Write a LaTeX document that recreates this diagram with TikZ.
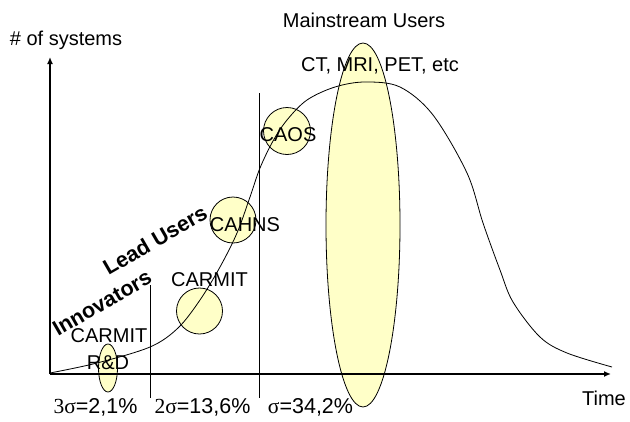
\documentclass[tikz,border=0pt]{standalone}
\usepackage{fontspec}
\setmainfont{Liberation Sans}
\newfontfamily\seriffam{Liberation Serif}
\usetikzlibrary{shapes.geometric,arrows.meta}
\definecolor{paleyellow}{RGB}{255,255,200}
\tikzset{
  lbl/.style={inner sep=0pt,font=\fontsize{20}{23}\selectfont},
  siglbl/.style={inner sep=0pt,font=\fontsize{21.5}{24}\selectfont},
  boldlbl/.style={inner sep=0pt,font=\fontsize{21.5}{24}\selectfont\bfseries,rotate=30},
  bubble/.style={circle,draw=black,fill=paleyellow,line width=0.8pt,inner sep=0pt,minimum size=46pt},
  oval/.style={ellipse,draw=black,fill=paleyellow,line width=0.8pt,inner sep=0pt},
  axis/.style={line width=2pt,-{Latex[length=7pt,width=6pt]}},
  divider/.style={line width=0.8pt},
}
\begin{document}
\begin{tikzpicture}[x=1pt,y=-1pt]
\useasboundingbox (0,0) rectangle (630,421);
% bubbles
\node[oval,minimum width=19pt,minimum height=48pt] (rd) at (108,368) {};
\node[bubble] (carmitc) at (199.5,311) {};
\node[bubble] (cahnsc) at (233,220) {};
\node[bubble,minimum size=47pt] (caosc) at (287,131) {};
\node[oval,minimum width=74pt,minimum height=364pt] (main) at (363,225) {};
% dividers
\coordinate (d1t) at (150.5,285);
\coordinate (d1b) at (150.5,398);
\coordinate (d2t) at (259,93);
\coordinate (d2b) at (259,398);
\draw[divider] (d1t) -- (d1b);
\draw[divider] (d2t) -- (d2b);
% curve
\draw[line width=0.8pt] plot[smooth,tension=0.55] coordinates {
 (50,373) (97,363) (150,347) (178,328) (200,300) (220,267) (237,233)
 (250,197) (260,168) (273,141) (287,120) (307,100) (335,87) (365,82)
 (400,87) (433,115) (467,173) (483,223) (500,270) (513,302) (540,337)
 (567,353) (612,367)};
% axes
\coordinate (o) at (50,374);
\coordinate (ytip) at (50,57);
\coordinate (xtip) at (611,374);
\draw[axis] (o) -- (ytip);
\draw[axis] (o) -- (xtip);
% texts
\node[lbl] (ylab) at (66,40) {\# of systems};
\node[lbl] (xlab) at (604,398) {Time};
\node[lbl] (mainlab) at (364,20) {Mainstream Users};
\node[lbl] (ctlab) at (380,66) {CT, MRI, PET, etc};
\node[lbl] (caos) at (288,135) {CAOS};
\node[lbl] (cahns) at (245,225) {CAHNS};
\node[lbl] (carmit) at (209.5,280) {CARMIT};
\node[lbl] (carmitrd) at (109,336) {CARMIT};
\node[lbl] (rdlab) at (108,363) {R\&D};
\node[boldlbl] (innov) at (102,303) {Innovators};
\node[boldlbl] (lead) at (155,240) {Lead Users};
\node[siglbl] (s3) at (95.5,407) {{\seriffam 3σ}=2,1\%};
\node[siglbl] (s2) at (202.5,407) {{\seriffam 2σ}=13,6\%};
\node[siglbl] (s1) at (310.5,407) {{\seriffam σ}=34,2\%};
\end{tikzpicture}
\end{document}
